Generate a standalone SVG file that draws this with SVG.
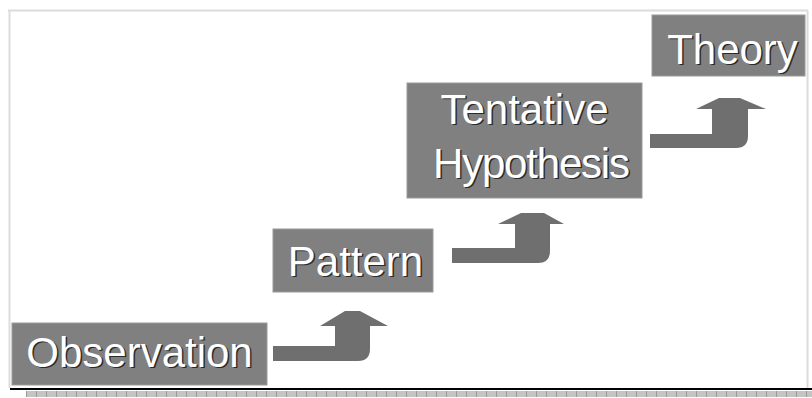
<svg xmlns="http://www.w3.org/2000/svg" width="812" height="398" viewBox="0 0 812 398">
<defs>
<style>
.box{fill:#808080;stroke:#9a9a9a;stroke-width:1}
.lbl{font-family:"Liberation Sans",Arial,sans-serif;font-size:42px;text-anchor:middle}
.sh{fill:#2a2a2a}
.fg{fill:#ffffff}
.arr{fill:#6f6f6f}
</style>
<pattern id="dash" x="26" y="391" width="10" height="6" patternUnits="userSpaceOnUse">
<rect width="10" height="6" fill="#c4c4c4"/>
<rect width="1" height="6" fill="#9a9a9a"/>
</pattern>
</defs>
<rect width="812" height="398" fill="#ffffff"/>
<g id="frame">
<line x1="8" y1="10.5" x2="808" y2="10.5" stroke="#dcdcdc" stroke-width="2"/>
<line x1="9.5" y1="10" x2="9.5" y2="388" stroke="#dcdcdc" stroke-width="2"/>
<line x1="807.5" y1="10" x2="807.5" y2="388" stroke="#dcdcdc" stroke-width="2"/>
<line x1="10" y1="389" x2="812" y2="389" stroke="#000000" stroke-width="2"/>
<rect x="26" y="391" width="786" height="6" fill="url(#dash)"/>
</g>
<g id="connectors">
<path class="arr" d="M273,346 L335,346 L335,326 L320,326 L345,311 L360,311 L388,326 L370,326 L370,349 Q370,361 358,361 L273,361 Z"/>
<path class="arr" d="M452,248 L515,248 L515,224 L498,224 L521,213 L544,213 L564,224 L550,224 L550,251 Q550,263 538,263 L452,263 Z"/>
<path class="arr" d="M650,134 L712,134 L712,109 L696,109 L719,98 L740,98 L766,109 L748,109 L748,136 Q748,148 736,148 L650,148 Z"/>
</g>
<g id="observation">
<rect class="box" x="12" y="323" width="255" height="62"/>
<text class="lbl sh" x="141" y="368">Observation</text>
<text class="lbl fg" x="139.5" y="366.5">Observation</text>
</g>
<g id="pattern">
<rect class="box" x="273" y="229" width="160" height="63"/>
<text class="lbl sh" x="357" y="277">Pattern</text>
<text class="lbl fg" x="355.5" y="275.5">Pattern</text>
</g>
<g id="tentative-hypothesis">
<rect class="box" x="407" y="83" width="235" height="115"/>
<text class="lbl sh" x="526" y="125">Tentative</text>
<text class="lbl fg" x="524.5" y="123.5">Tentative</text>
<text class="lbl sh" x="533" y="179" textLength="197">Hypothesis</text>
<text class="lbl fg" x="531.5" y="177.5" textLength="197">Hypothesis</text>
</g>
<g id="theory">
<rect class="box" x="652" y="15" width="153" height="61"/>
<text class="lbl sh" x="734" y="65">Theory</text>
<text class="lbl fg" x="732.5" y="63.5">Theory</text>
</g>
</svg>
